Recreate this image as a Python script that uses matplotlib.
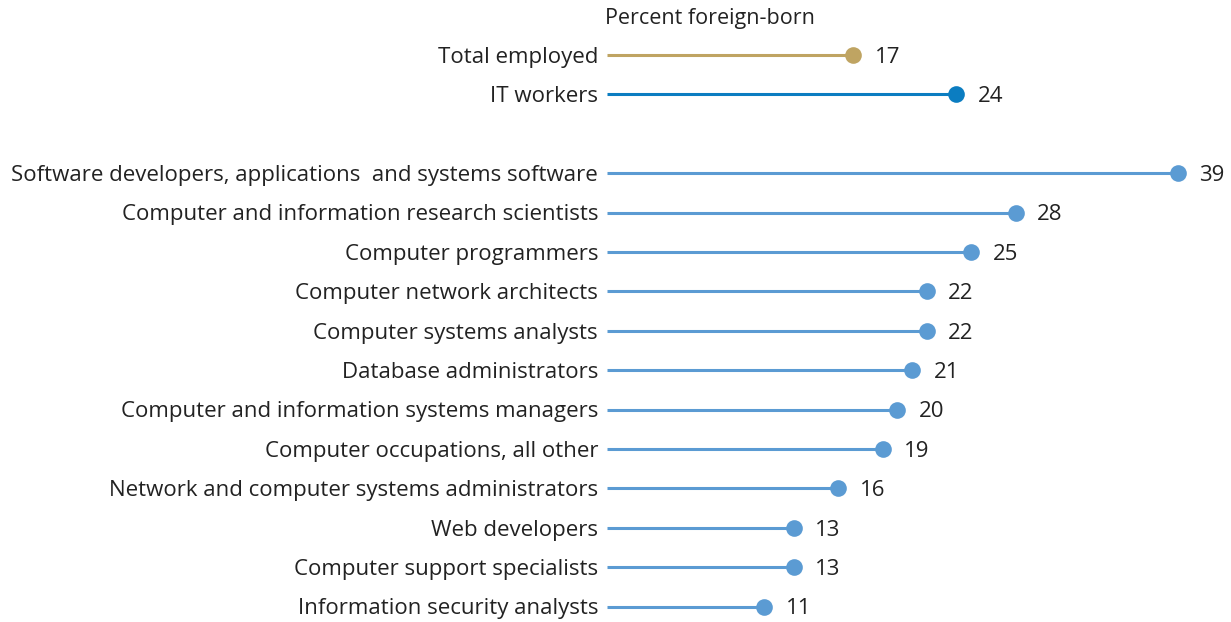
import matplotlib
matplotlib.use("Agg")
import matplotlib.pyplot as plt

plt.rcParams['font.family'] = ['Open Sans', 'DejaVu Sans']

top_labels = ["Total employed", "IT workers"]
top_values = [17, 24]
top_colors = ["#BFA462", "#0B7DC1"]

occupations = [
    "Software developers, applications  and systems software",
    "Computer and information research scientists",
    "Computer programmers",
    "Computer network architects",
    "Computer systems analysts",
    "Database administrators",
    "Computer and information systems managers",
    "Computer occupations, all other",
    "Network and computer systems administrators",
    "Web developers",
    "Computer support specialists",
    "Information security analysts",
]
occ_values = [39, 28, 25, 22, 22, 21, 20, 19, 16, 13, 13, 11]
occ_color = "#5B9BD3"
header = "Percent foreign-born"

W, H = 1231, 622
fig = plt.figure(figsize=(W / 100, H / 100), dpi=100)
x0_px = 602
px_per_unit = 14.77
xmax = 42
ax = fig.add_axes([x0_px / W, 0, xmax * px_per_unit / W, 1])
row_px = 39.4
y0_px = 55
ax.set_xlim(0, xmax)
ax.set_ylim((H - y0_px) / row_px, -y0_px / row_px)
ax.axis('off')

labels = top_labels + occupations
values = top_values + occ_values
colors = top_colors + [occ_color] * len(occupations)
positions = [0, 1] + [i + 3 for i in range(len(occupations))]

fs = 16
txt = "#222222"
start = 0.34
dy = 0.06
for lab, v, c, y in zip(labels, values, colors, positions):
    ax.plot([start, v], [y, y], color=c, lw=2.2, solid_capstyle='butt', zorder=2)
    ax.plot([v], [y], 'o', color=c, ms=12, mec='none', zorder=3)
    ax.text(-0.27, y + dy, lab, ha='right', va='center', fontsize=fs, color=txt)
    ax.text(v + 1.45, y + dy, str(v), ha='left', va='center', fontsize=fs, color=txt)

ax.text(0.2, -0.92, header, ha='left', va='center', fontsize=fs - 0.5, color=txt)

fig.savefig("out.png", dpi=100)
